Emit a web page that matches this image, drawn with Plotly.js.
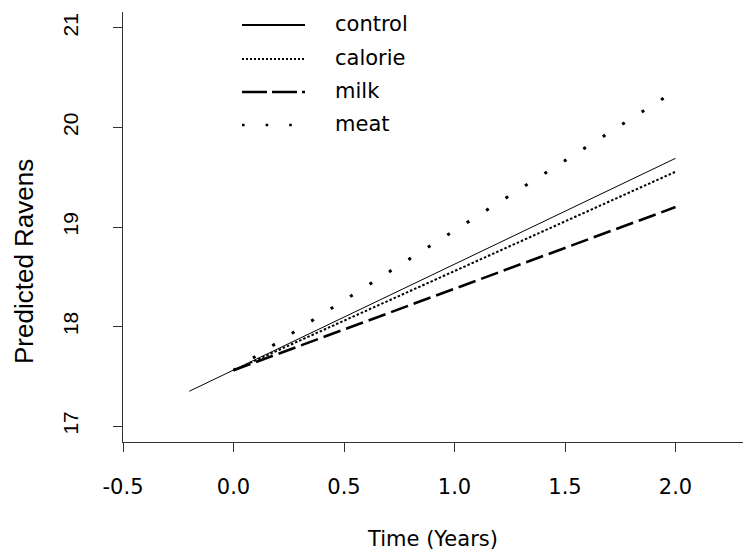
<!DOCTYPE html>
<html>
<head>
<meta charset="utf-8">
<script src="https://cdn.plot.ly/plotly-3.0.1.min.js"></script>
<style>html,body{margin:0;padding:0;background:#fff;}#chart{width:743px;height:555px;}</style>
</head>
<body>
<div id="chart"></div>
<script>
// ---- data ----
var seriesNames = ["control", "calorie", "milk", "meat"];
var controlX = [-0.2, 2.0];
var controlY = [17.35, 19.69];
var calorieX = [0.0, 2.0];
var calorieY = [17.56, 19.555];
var milkX = [0.0, 2.0];
var milkY = [17.56, 19.20];
var meatX = [0.0, 2.0];
var meatY = [17.56, 20.37];
var xTickVals = [-0.5, 0.0, 0.5, 1.0, 1.5, 2.0];
var xTickText = ["-0.5", "0.0", "0.5", "1.0", "1.5", "2.0"];
var yTickVals = [17, 18, 19, 20, 21];
var yTickText = ["17", "18", "19", "20", "21"];
var xTitle = "Time (Years)";
var yTitle = "Predicted Ravens";

// ---- styles ----
var FONT_H = "DejaVu Sans, Verdana, sans-serif";
var FONT_V = "Liberation Sans, Arial, Helvetica, sans-serif";
var styles = [
  {color: "#000", width: 1, dash: "solid"},
  {color: "#000", width: 2, dash: "2.5px,2px"},
  {color: "#000", width: 2.6, dash: "18px,6px"},
  {color: "#000", width: 3, dash: "3px,20px"}
];
var legendStyles = [
  {color: "#000", width: 2, dash: "solid"},
  {color: "#000", width: 2, dash: "2px,2px"},
  {color: "#000", width: 2.6, dash: "25px,5px"},
  {color: "#000", width: 2.6, dash: "2.6px,21px"}
];
var xs = [controlX, calorieX, milkX, meatX];
var ys = [controlY, calorieY, milkY, meatY];

var traces = seriesNames.map(function (n, i) {
  return {x: xs[i], y: ys[i], name: n, type: "scatter", mode: "lines",
          line: styles[i], hoverinfo: "skip", showlegend: false};
});

// plot area in pixels
var W = 743, H = 555, L = 123, R = 0, T = 12, B = 113;
var pw = W - L - R, ph = H - T - B;
function px(xp) { return (xp - L) / pw; }
function py(yp) { return (H - B - yp) / ph; }

// R-style legend without a box
var legRows = [25, 59, 92, 125];
var shapes = [], annots = [];
seriesNames.forEach(function (n, i) {
  shapes.push({type: "line", xref: "paper", yref: "paper",
    x0: px(242), x1: px(305), y0: py(legRows[i]), y1: py(legRows[i]),
    line: legendStyles[i]});
  annots.push({xref: "paper", yref: "paper", x: px(333), y: py(legRows[i] - 1),
    xanchor: "left", yanchor: "middle", showarrow: false, text: n,
    font: {family: FONT_H, size: 21, color: "#000"}});
});
// y axis label (R ylab)
annots.push({xref: "paper", yref: "paper", x: px(24), y: py(262),
  xanchor: "center", yanchor: "middle", textangle: -90, showarrow: false,
  text: yTitle, font: {family: FONT_V, size: 26, color: "#000"}});

var layout = {
  width: W, height: H,
  margin: {l: L, r: R, t: T, b: B, pad: 0},
  paper_bgcolor: "#fff", plot_bgcolor: "#fff",
  font: {family: FONT_H, size: 21, color: "#000"},
  showlegend: false,
  xaxis: {
    range: [-0.5, 2.3054], tickvals: xTickVals, ticktext: xTickText,
    ticks: "outside", ticklen: 9, tickwidth: 1, tickcolor: "#333",
    showline: true, linecolor: "#333", linewidth: 1.2,
    showgrid: false, zeroline: false, automargin: false,
    ticklabelstandoff: 17,
    tickfont: {family: FONT_H, size: 21, color: "#000"},
    title: {text: xTitle, standoff: 32, font: {family: FONT_H, size: 21, color: "#000"}}
  },
  yaxis: {
    range: [16.84, 21.16], tickvals: yTickVals, ticktext: yTickText,
    tickangle: -90,
    ticks: "outside", ticklen: 9, tickwidth: 1, tickcolor: "#333",
    showline: true, linecolor: "#333", linewidth: 1.2,
    showgrid: false, zeroline: false, automargin: false,
    ticklabelstandoff: 26,
    tickfont: {family: FONT_V, size: 21, color: "#000"}
  },
  shapes: shapes,
  annotations: annots
};

Plotly.newPlot("chart", traces, layout, {displayModeBar: false, staticPlot: true});
</script>
</body>
</html>
